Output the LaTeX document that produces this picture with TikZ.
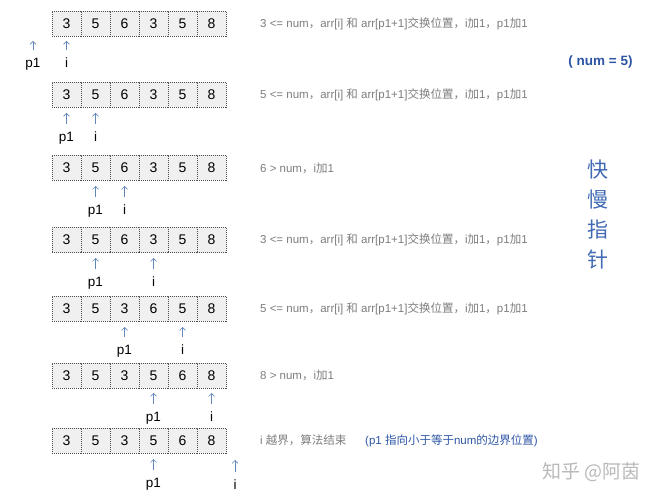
\documentclass[tikz,border=0pt]{standalone}
\usepackage{fontspec}
\setmainfont{Liberation Sans}
\newfontfamily\cjk{Noto Sans CJK SC}
\usetikzlibrary{arrows.meta}
\definecolor{ptrblue}{RGB}{100,135,185}
\definecolor{notegray}{RGB}{125,125,125}
\definecolor{numblue}{RGB}{45,85,165}
\definecolor{titleblue}{RGB}{65,105,180}
\definecolor{wmgray}{RGB}{185,185,185}
\newcommand\zh[1]{{\cjk #1}}
\newcommand\ptr[5]{%
  \coordinate (#1t) at (#2,#3);
  \node[lab] (#1l) at (#2,#5) {#4};
  \draw[ptrarrow] (#1l) -- (#1t);}
\begin{document}
\begin{tikzpicture}[x=1pt,y=-1pt,
  cell/.style={draw=black!70, dash pattern=on 1pt off 1pt, fill=black!6,
    minimum width=29pt, minimum height=25pt, inner sep=0pt, outer sep=0pt,
    font=\fontsize{14}{16}\selectfont},
  lab/.style={font=\fontsize{13.5}{15}\selectfont, inner sep=0pt, outer sep=8pt,
    text height=9.5pt, text depth=0pt},
  ptrarrow/.style={draw=ptrblue, line width=0.6pt, -{Straight Barb[length=3pt,width=6pt]}},
  note/.style={anchor=west, text=notegray, font=\fontsize{11.5}{13}\selectfont, inner sep=0pt},
]
\useasboundingbox (0,0) rectangle (662,500);

\foreach \r/\y/\vals in {1/24/{3,5,6,3,5,8},2/95/{3,5,6,3,5,8},3/168/{3,5,6,3,5,8},
  4/240/{3,5,6,3,5,8},5/308.5/{3,5,3,6,5,8},6/375.5/{3,5,3,5,6,8},7/440.5/{3,5,3,5,6,8}}{
  \foreach \v [count=\k] in \vals {
    \node[cell] (r\r c\k) at ({52+29*(\k-0.5)},\y) {\v};
  }
}

% pointers
\ptr{pa}{33}{41}{p1}{63}
\ptr{ia}{66.5}{41}{i}{63}
\ptr{pb}{66.5}{113}{p1}{137}
\ptr{ib}{95.5}{113}{i}{137}
\ptr{pc}{95.5}{186}{p1}{210}
\ptr{ic}{124.5}{186}{i}{210}
\ptr{pd}{95.5}{258}{p1}{282}
\ptr{id}{153.5}{258}{i}{282}
\ptr{pe}{124.5}{327}{p1}{350}
\ptr{ie}{182.5}{327}{i}{350}
\ptr{pf}{153.5}{393}{p1}{417}
\ptr{if}{211.5}{393}{i}{417}
\ptr{pg}{153.5}{459}{p1}{483}
\ptr{ig}{235}{460}{i}{485}

% notes
\node[note] (n1) at (260,24) {3 <= num\zh{，}arr[i] \zh{和} arr[p1+1]\zh{交换位置，}i\zh{加}1\zh{，}p1\zh{加}1};
\node[note] (n2) at (260,95) {5 <= num\zh{，}arr[i] \zh{和} arr[p1+1]\zh{交换位置，}i\zh{加}1\zh{，}p1\zh{加}1};
\node[note] (n3) at (260,168) {6 > num\zh{，}i\zh{加}1};
\node[note] (n4) at (260,240) {3 <= num\zh{，}arr[i] \zh{和} arr[p1+1]\zh{交换位置，}i\zh{加}1\zh{，}p1\zh{加}1};
\node[note] (n5) at (260,308.5) {5 <= num\zh{，}arr[i] \zh{和} arr[p1+1]\zh{交换位置，}i\zh{加}1\zh{，}p1\zh{加}1};
\node[note] (n6) at (260,375.5) {8 > num\zh{，}i\zh{加}1};
\node[note] (n7) at (260,440.5) {i \zh{越界，算法结束}};
\node[note, text=numblue] (n8) at (365,440.5) {(p1 \zh{指向小于等于}num\zh{的边界位置})};

\node[text=numblue, font=\bfseries\fontsize{13.5}{15}\selectfont, inner sep=0pt] (num) at (600.5,62) {( num = 5)};
\node[text=titleblue, font=\cjk\fontsize{21}{30}\selectfont, align=center, inner sep=0pt] (title) at (598,214.5) {快\\慢\\指\\针};
\node[text=wmgray, font=\cjk\fontsize{19}{21}\selectfont, inner sep=0pt] (wm) at (591.5,472) {知乎 @阿茵};
\end{tikzpicture}
\end{document}
